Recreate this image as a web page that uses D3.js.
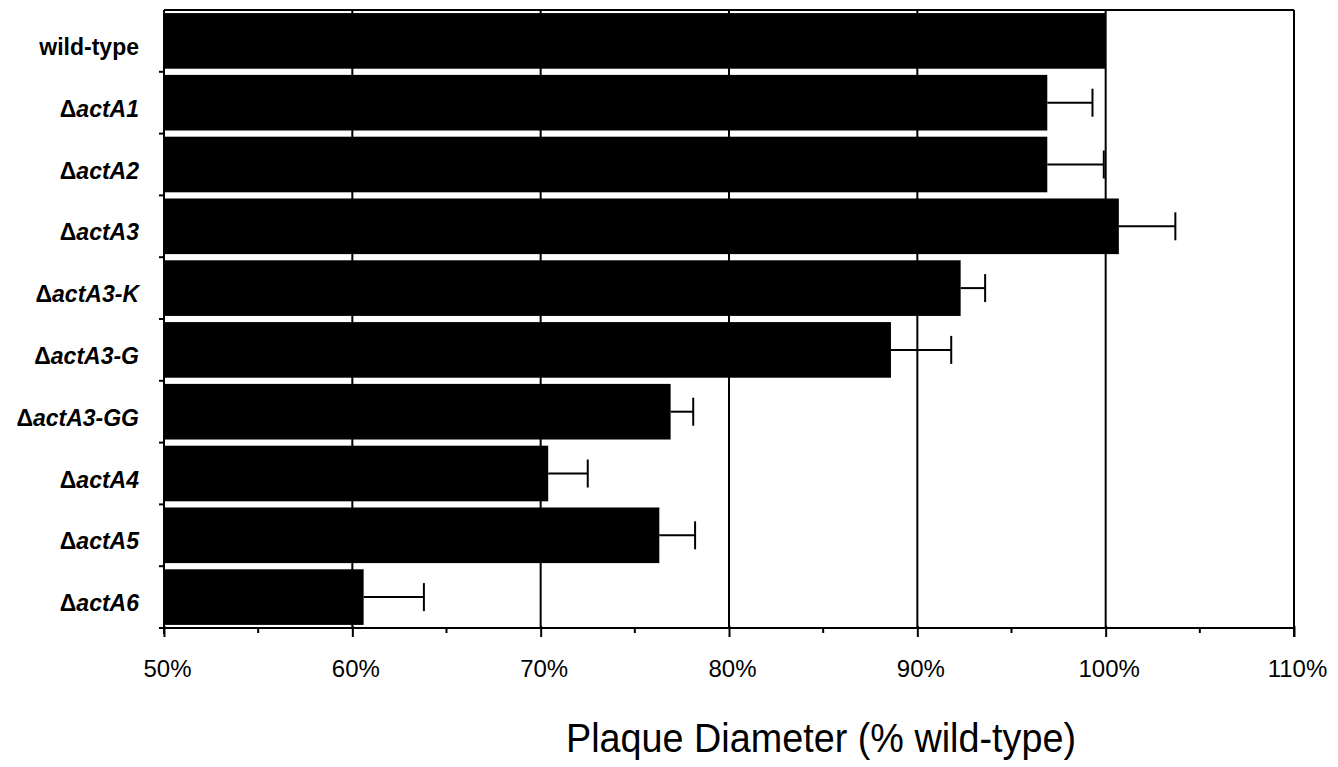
<!DOCTYPE html>
<html><head><meta charset="utf-8">
<script src="https://cdn.jsdelivr.net/npm/d3@7"></script>
<style>body{margin:0;background:#fff;} svg{display:block;}</style>
</head><body>
<svg id="chart" width="1338" height="767"></svg>
<script>
const categories = ["wild-type","actA1","actA2","actA3","actA3-K","actA3-G","actA3-GG","actA4","actA5","actA6"];
const isMutant = [false,true,true,true,true,true,true,true,true,true];
const values = [100, 96.9, 96.9, 100.7, 92.3, 88.6, 76.9, 70.4, 76.3, 60.6];
const errorTops = [null, 99.3, 99.9, 103.7, 93.6, 91.8, 78.1, 72.5, 78.2, 63.8];
const tickValues = [50,60,70,80,90,100,110];
const tickLabels = ["50%","60%","70%","80%","90%","100%","110%"];
const minorTicks = [55,65,75,85,95,105];

const svg = d3.select("#chart");
const L = 164, R = 1294, T = 10, B = 628;
const x = d3.scaleLinear().domain([50,110]).range([L,R]);
const y = d3.scaleBand().domain(categories).range([T,B]).paddingInner(0.1).paddingOuter(0.05);

const font = "'Liberation Sans', Arial, Helvetica, sans-serif";

// gridlines
svg.append("g").selectAll("line").data(tickValues.filter(v=>v>50)).join("line")
  .attr("x1",d=>x(d)).attr("x2",d=>x(d)).attr("y1",T).attr("y2",B)
  .attr("stroke","#000").attr("stroke-width",2);
// top border
svg.append("line").attr("x1",L).attr("x2",R).attr("y1",T).attr("y2",T).attr("stroke","#000").attr("stroke-width",2);

// bars
svg.append("g").selectAll("rect").data(categories).join("rect")
  .attr("x",x(50)).attr("y",d=>y(d))
  .attr("width",(d,i)=>x(values[i])-x(50)).attr("height",y.bandwidth())
  .attr("fill","#000");

// error bars
const eg = svg.append("g").attr("stroke","#000").attr("stroke-width",2);
categories.forEach((c,i)=>{
  if(errorTops[i]==null) return;
  const cy = y(c)+y.bandwidth()/2;
  eg.append("line").attr("x1",x(values[i])).attr("x2",x(errorTops[i])).attr("y1",cy).attr("y2",cy);
  eg.append("line").attr("x1",x(errorTops[i])).attr("x2",x(errorTops[i])).attr("y1",cy-14).attr("y2",cy+14);
});

// bottom axis
const xAxis = d3.axisBottom(x).tickValues(tickValues).tickFormat((d,i)=>tickLabels[i]).tickSize(9).tickPadding(0);
const gx = svg.append("g").attr("transform",`translate(0,${B})`).call(xAxis);
gx.select(".domain").attr("stroke-width",2).attr("d",`M${L},0H${R}`);
gx.selectAll(".tick line").attr("stroke-width",2).attr("y1",-2);
gx.selectAll("text").attr("font-family",font).attr("font-size",24).attr("fill","#000")
  .attr("y",49).attr("dy",null).attr("dx",3);
svg.append("g").selectAll("line").data(minorTicks).join("line")
  .attr("x1",d=>x(d)).attr("x2",d=>x(d)).attr("y1",B).attr("y2",B+5)
  .attr("stroke","#000").attr("stroke-width",2);

// left axis line and band ticks
svg.append("line").attr("x1",L).attr("x2",L).attr("y1",T).attr("y2",B+6).attr("stroke","#000").attr("stroke-width",2);
const bounds = categories.map(c=>y(c)-y.step()*y.paddingInner()/2).slice(1).concat([B]);
svg.append("g").selectAll("line").data(bounds).join("line")
  .attr("x1",L-5).attr("x2",L).attr("y1",d=>d).attr("y2",d=>d)
  .attr("stroke","#000").attr("stroke-width",2);

// category labels
const lab = svg.append("g").selectAll("text").data(categories).join("text")
  .attr("x",139).attr("y",d=>y(d)+y.bandwidth()/2+14)
  .attr("text-anchor","end").attr("font-family",font).attr("font-size",23)
  .attr("font-weight","bold").attr("fill","#000");
lab.each(function(d,i){
  const t = d3.select(this);
  if(!isMutant[i]){ t.text(d); return; }
  t.append("tspan").text("Δ");
  t.append("tspan").attr("font-style","italic").text(d);
});

// axis title
svg.append("text").attr("x",821).attr("y",752).attr("text-anchor","middle")
  .attr("font-family",font).attr("font-size",41).attr("fill","#000")
  .attr("textLength",510).attr("lengthAdjust","spacingAndGlyphs")
  .text("Plaque Diameter (% wild-type)");
// right border
svg.append("line").attr("x1",R).attr("x2",R).attr("y1",T).attr("y2",B+9).attr("stroke","#000").attr("stroke-width",2);
</script>
</body></html>
